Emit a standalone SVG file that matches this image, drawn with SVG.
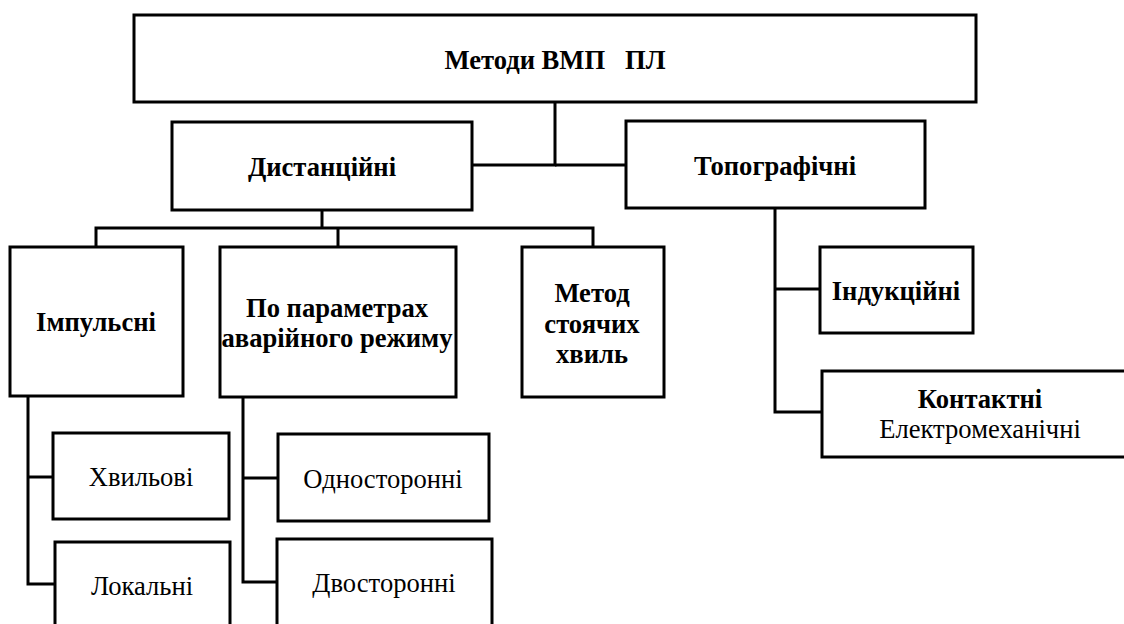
<svg xmlns="http://www.w3.org/2000/svg" width="1124" height="624" viewBox="0 0 1124 624">
<style>
.box{fill:#fff;stroke:#000;stroke-width:3}
.ln{fill:none;stroke:#000;stroke-width:3}
text{font-family:'Liberation Serif','Times New Roman',serif;font-size:26.6px;fill:#000;text-anchor:middle}
.b{font-weight:bold}
</style>
<rect width="1124" height="624" fill="#fff"/>
<g id="connectors">
<polyline class="ln" points="555,102 555,165 472,165"/>
<line class="ln" x1="555" y1="165" x2="626" y2="165"/>
<line class="ln" x1="322" y1="210" x2="322" y2="228"/>
<polyline class="ln" points="96,247 96,228 593,228 593,247"/>
<line class="ln" x1="338" y1="228" x2="338" y2="247"/>
<polyline class="ln" points="775,208 775,412 822,412"/>
<line class="ln" x1="775" y1="289" x2="820" y2="289"/>
<polyline class="ln" points="28,396 28,584 55,584"/>
<line class="ln" x1="28" y1="477" x2="53" y2="477"/>
<polyline class="ln" points="243,397 243,582 277,582"/>
<line class="ln" x1="243" y1="478" x2="278" y2="478"/>
</g>
<g id="root"><rect class="box" x="134" y="15" width="842" height="87"/><text class="b" x="555" y="69" xml:space="preserve">Методи ВМП   ПЛ</text></g>
<g id="distant"><rect class="box" x="172" y="122" width="300" height="88"/><text class="b" x="322" y="176">Дистанційні</text></g>
<g id="topo"><rect class="box" x="626" y="121" width="299" height="87"/><text class="b" x="775" y="175">Топографічні</text></g>
<g id="impulse"><rect class="box" x="10" y="247" width="173" height="149"/><text class="b" x="96" y="331">Імпульсні</text></g>
<g id="params"><rect class="box" x="220" y="247" width="236" height="150"/><text class="b" x="337" y="317">По параметрах</text><text class="b" x="337" y="347">аварійного режиму</text></g>
<g id="standing"><rect class="box" x="522" y="247" width="142" height="150"/><text class="b" x="592" y="302">Метод</text><text class="b" x="592" y="333">стоячих</text><text class="b" x="592" y="363">хвиль</text></g>
<g id="induct"><rect class="box" x="820" y="247" width="153" height="86"/><text class="b" x="896" y="300">Індукційні</text></g>
<g id="contact"><rect class="box" x="822" y="371" width="320" height="86"/><text class="b" x="980" y="408">Контактні</text><text x="980" y="438">Електромеханічні</text></g>
<g id="wave"><rect class="box" x="53" y="433" width="176" height="86"/><text x="141" y="486">Хвильові</text></g>
<g id="local"><rect class="box" x="55" y="542" width="175" height="100"/><text x="142" y="595">Локальні</text></g>
<g id="oneside"><rect class="box" x="278" y="434" width="211" height="87"/><text x="383" y="488">Односторонні</text></g>
<g id="twoside"><rect class="box" x="277" y="539" width="215" height="100"/><text x="384" y="592">Двосторонні</text></g>
</svg>
